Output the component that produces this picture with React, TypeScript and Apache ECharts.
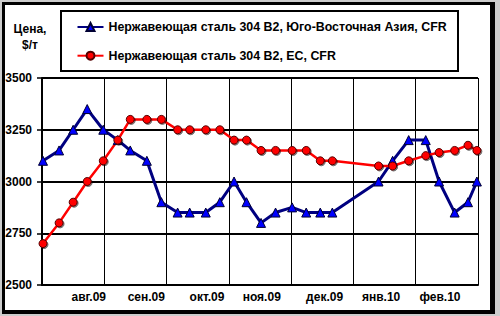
import React, { useEffect, useRef } from "react";
import * as echarts from "echarts";

const seriesNames = [
  "Нержавеющая сталь 304 B2, Юго-Восточная Азия, CFR",
  "Нержавеющая сталь 304 B2, ЕС, CFR",
];

const dates = [
  "2009-08-01", "2009-08-09", "2009-08-16", "2009-08-23", "2009-08-31",
  "2009-09-07", "2009-09-13", "2009-09-21", "2009-09-28",
  "2009-10-06", "2009-10-12", "2009-10-20", "2009-10-27",
  "2009-11-03", "2009-11-09", "2009-11-16", "2009-11-23",
  "2009-12-01", "2009-12-08", "2009-12-15", "2009-12-21",
  "2010-01-13", "2010-01-20", "2010-01-28",
  "2010-02-05", "2010-02-11", "2010-02-18", "2010-02-24", "2010-02-28",
];

const asiaValues = [
  3100, 3150, 3250, 3350, 3250,
  3200, 3150, 3100, 2900,
  2850, 2850, 2850, 2900,
  3000, 2900, 2800, 2850,
  2875, 2850, 2850, 2850,
  3000, 3100, 3200,
  3200, 3000, 2850, 2900, 3000,
];

const euValues = [
  2700, 2800, 2900, 3000, 3100,
  3200, 3300, 3300, 3300,
  3250, 3250, 3250, 3250,
  3200, 3200, 3150, 3150,
  3150, 3150, 3100, 3100,
  3075, 3075, 3100,
  3125, 3140, 3150, 3175, 3150,
];

const monthLabels = ["авг.09", "сен.09", "окт.09", "ноя.09", "дек.09", "янв.10", "фев.10"];

const yMin = 2500;
const yMax = 3500;
const yStep = 250;

// layout: where the month labels sit along the axis (in month units)
const labelPositions = [0.751, 1.674, 2.649, 3.528, 4.537, 5.444, 6.389];

const FONT = '"Liberation Sans", Arial, sans-serif';

function toMonthPos(d: string): number {
  const [y, m, day] = d.split("-").map(Number);
  const idx = (y - 2009) * 12 + (m - 8);
  const dim = new Date(y, m, 0).getDate();
  return idx + (day - 0.5) / dim;
}

export default function App() {
  const ref = useRef<HTMLDivElement>(null);

  useEffect(() => {
    document.body.style.margin = "0";
    if (!ref.current) return;
    const chart = echarts.init(ref.current, undefined, { renderer: "svg" });

    const labelFormatter = (v: number) => {
      let best = 0;
      let bd = Infinity;
      labelPositions.forEach((p, i) => {
        const d = Math.abs(p - v);
        if (d < bd) {
          bd = d;
          best = i;
        }
      });
      return monthLabels[best];
    };

    chart.setOption({
      animation: false,
      backgroundColor: "#cccccc",
      textStyle: { fontFamily: FONT },
      graphic: [
        { type: "rect", z: -100, shape: { x: 2, y: 2, width: 493, height: 312 }, style: { fill: "#000" } },
        { type: "rect", z: -99, shape: { x: 5, y: 5, width: 485, height: 305 }, style: { fill: "#fff" } },
        {
          type: "rect",
          z: -98,
          shape: { x: 61, y: 11, width: 397, height: 60 },
          style: { fill: "#fff", stroke: "#000", lineWidth: 2 },
        },
        {
          type: "text",
          z: 10,
          x: 30,
          y: 37,
          style: {
            text: "Цена,\n$/т",
            align: "center",
            verticalAlign: "middle",
            font: `bold 12px ${FONT}`,
            lineHeight: 16,
            fill: "#000",
          },
        },
      ],
      legend: {
        orient: "vertical",
        left: 76.5,
        top: 21,
        itemWidth: 26,
        itemHeight: 10,
        itemGap: 16.7,
        padding: 0,
        data: seriesNames,
        textStyle: { fontWeight: "bold", fontSize: 12.4, color: "#000", fontFamily: FONT },
      },
      grid: { left: 42, right: 22, top: 78, bottom: 31 },
      xAxis: {
        type: "value",
        min: 0,
        max: 7,
        interval: 1,
        axisLine: { show: true, lineStyle: { color: "#000", width: 2 } },
        axisTick: { show: false },
        splitLine: { show: true, lineStyle: { color: "#000", width: 1 } },
        axisLabel: {
          customValues: labelPositions,
          formatter: labelFormatter,
          margin: 6,
          color: "#000",
          fontWeight: "bold",
          fontSize: 12,
          fontFamily: FONT,
        },
      },
      yAxis: {
        type: "value",
        min: yMin,
        max: yMax,
        interval: yStep,
        axisLine: { show: true, lineStyle: { color: "#000", width: 2 } },
        axisTick: { show: true, length: 5, lineStyle: { color: "#000", width: 1.5 } },
        splitLine: { show: true, lineStyle: { color: "#000", width: 2 } },
        axisLabel: {
          margin: 10,
          formatter: (v: number) => String(v),
          color: "#000",
          fontWeight: "bold",
          fontSize: 12,
          fontFamily: FONT,
        },
      },
      series: [
        {
          type: "line",
          name: seriesNames[0],
          data: dates.map((d, i) => [toMonthPos(d), asiaValues[i]]),
          symbol: "triangle",
          symbolSize: 9,
          lineStyle: { color: "#000080", width: 3 },
          itemStyle: { color: "#0000ff", borderColor: "#000033", borderWidth: 1 },
        },
        {
          type: "line",
          name: seriesNames[1],
          data: dates.map((d, i) => [toMonthPos(d), euValues[i]]),
          symbol: "circle",
          symbolSize: 8,
          lineStyle: { color: "#ff0000", width: 2.5 },
          itemStyle: {
            color: "#ff0000",
            borderColor: "#550000",
            borderWidth: 1,
            shadowColor: "rgba(0,0,0,0.55)",
            shadowBlur: 1,
            shadowOffsetX: 1,
            shadowOffsetY: 1,
          },
        },
      ],
    });

    return () => chart.dispose();
  }, []);

  return (
    <div
      ref={ref}
      style={{ position: "absolute", left: 0, top: 0, width: 500, height: 316 }}
    />
  );
}
